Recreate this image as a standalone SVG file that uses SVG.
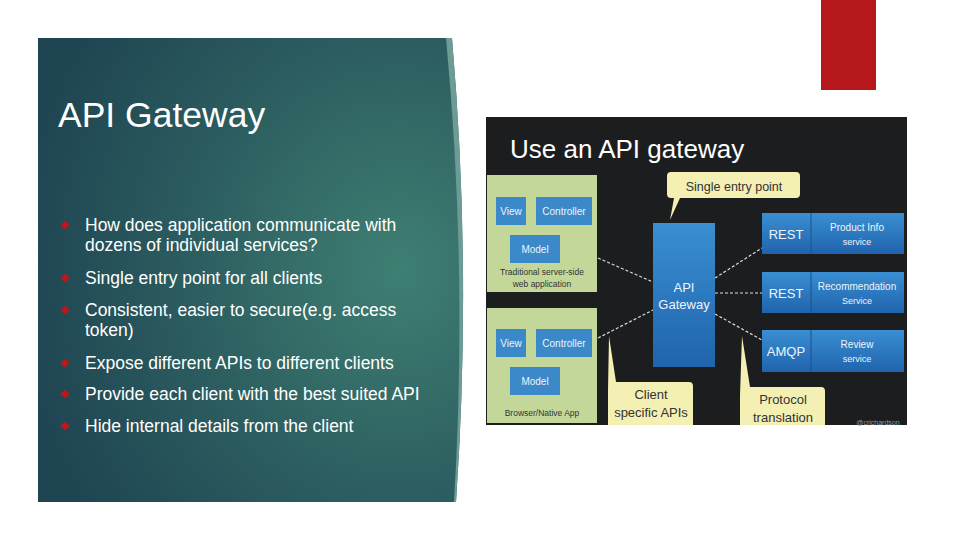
<svg xmlns="http://www.w3.org/2000/svg" width="960" height="540" viewBox="0 0 960 540">
<defs>
<radialGradient id="bg" cx="0.85" cy="0.5" r="0.9">
<stop offset="0" stop-color="#3f7f72"/><stop offset="0.6" stop-color="#2a5a5e"/><stop offset="1" stop-color="#1f4552"/>
</radialGradient>
<linearGradient id="gb" x1="0" y1="0" x2="0" y2="1"><stop offset="0" stop-color="#3a8ed2"/><stop offset="1" stop-color="#1f64ad"/></linearGradient>
<path id="dia" d="M0,-4.5 L4.5,0 L0,4.5 L-4.5,0 Z"/>
</defs>
<style>
.t{font-family:"Liberation Sans",Arial,sans-serif;fill:#fff}
.b{font-size:17.5px}
.g{fill:#c3d898}
.bl{fill:#3b89c9}
.s{fill:url(#gb)}
.w{font-family:"Liberation Sans",Arial,sans-serif;fill:#eef4fa;text-anchor:middle}
.k{font-family:"Liberation Sans",Arial,sans-serif;fill:#333;text-anchor:middle}
.y{fill:#f4efb3}
.c{stroke:#ddd;stroke-width:1.2;stroke-dasharray:3 2;fill:none}
</style>
<rect width="960" height="540" fill="#fff"/>
<rect x="821" y="0" width="55" height="90" fill="#b5171a"/>
<g id="panel">
<path d="M38,38 L452,38 Q472,270 456,502 L38,502 Z" fill="url(#bg)"/>
<path d="M446,38 L452,38 Q472,270 456,502 L454,502 Q468,270 446,38 Z" fill="#6d9b96"/>
<text class="t" x="58" y="127" font-size="35.5">API Gateway</text>
<g fill="#c0151b">
<use href="#dia" x="65" y="225"/><use href="#dia" x="65" y="278"/><use href="#dia" x="65" y="310"/>
<use href="#dia" x="65" y="363"/><use href="#dia" x="65" y="394"/><use href="#dia" x="65" y="426"/>
</g>
<g class="t b">
<text x="85" y="231">How does application communicate with</text>
<text x="85" y="251">dozens of individual services?</text>
<text x="85" y="284">Single entry point for all clients</text>
<text x="85" y="316">Consistent, easier to secure(e.g. access</text>
<text x="85" y="336">token)</text>
<text x="85" y="369">Expose different APIs to different clients</text>
<text x="85" y="400">Provide each client with the best suited API</text>
<text x="85" y="432">Hide internal details from the client</text>
</g>
</g>
<g id="picture">
<rect x="486" y="117" width="421" height="308" fill="#1c1d1f"/>
<text class="t" x="510" y="158" font-size="26" fill="#f2f2f2">Use an API gateway</text>
</g>
<g id="connectors">
<path class="c" d="M598,258 L653,282 M598,338 L653,310 M715,278 L762,248 M715,293 L762,293 M715,314 L762,340"/>
<path d="M520,225 L527,233 M560,225 L552,233 M511,357 L525,366 M555,357 L550,366" stroke="#fff" stroke-width="1"/>
</g>
<g id="web-app">
<rect class="g" x="487" y="175" width="110" height="117"/>
<rect class="bl" x="496" y="197" width="30" height="28"/><text class="w" x="511" y="215" font-size="10">View</text>
<rect class="bl" x="536" y="197" width="56" height="28"/><text class="w" x="564" y="215" font-size="10">Controller</text>
<rect class="bl" x="510" y="235" width="50" height="28"/><text class="w" x="535" y="253" font-size="10">Model</text>
<text class="k" x="542" y="275" font-size="8.5">Traditional server-side</text>
<text class="k" x="542" y="287" font-size="8.5">web application</text>
</g>
<g id="native-app">
<rect class="g" x="487" y="308" width="110" height="115"/>
<rect class="bl" x="496" y="329" width="30" height="28"/><text class="w" x="511" y="347" font-size="10">View</text>
<rect class="bl" x="536" y="329" width="56" height="28"/><text class="w" x="564" y="347" font-size="10">Controller</text>
<rect class="bl" x="510" y="367" width="50" height="28"/><text class="w" x="535" y="385" font-size="10">Model</text>
<text class="k" x="542" y="416" font-size="8.5">Browser/Native App</text>
</g>
<g id="gateway">
<rect class="s" x="653" y="223" width="62" height="144"/>
<text class="w" x="684" y="292" font-size="13">API</text>
<text class="w" x="684" y="309" font-size="13">Gateway</text>
</g>
<g id="product">
<rect class="s" x="762" y="213" width="142" height="41"/><line x1="811" y1="213" x2="811" y2="254" stroke="#1a5290"/>
<text class="w" x="786" y="239" font-size="13">REST</text>
<text class="w" x="857" y="231" font-size="10">Product Info</text><text class="w" x="857" y="245" font-size="9">service</text>
</g>
<g id="recommendation">
<rect class="s" x="762" y="272" width="142" height="41"/><line x1="811" y1="272" x2="811" y2="313" stroke="#1a5290"/>
<text class="w" x="786" y="298" font-size="13">REST</text>
<text class="w" x="857" y="290" font-size="10">Recommendation</text><text class="w" x="857" y="304" font-size="9">Service</text>
</g>
<g id="review">
<rect class="s" x="762" y="330" width="142" height="42"/><line x1="811" y1="330" x2="811" y2="372" stroke="#1a5290"/>
<text class="w" x="786" y="356" font-size="13">AMQP</text>
<text class="w" x="857" y="348" font-size="10">Review</text><text class="w" x="857" y="362" font-size="9">service</text>
</g>
<g id="callout-entry">
<path class="y" d="M671,172 H796 Q800,172 800,176 V194 Q800,198 796,198 H680 L670,220 L674,198 H671 Q667,198 667,194 V176 Q667,172 671,172 Z"/>
<text class="k" x="734" y="191" font-size="12.5">Single entry point</text>
</g>
<g id="callout-client">
<path class="y" d="M612,382 H689 Q693,382 693,386 V425 H608 V390 L609,336 L616,382 Z"/>
<text class="k" x="651" y="399" font-size="13">Client</text>
<text class="k" x="651" y="417" font-size="13">specific APIs</text>
</g>
<g id="callout-protocol">
<path class="y" d="M744,387 H821 Q825,387 825,391 V425 H740 V395 L742,336 L750,387 Z"/>
<text class="k" x="783" y="404" font-size="13">Protocol</text>
<text class="k" x="783" y="422" font-size="13">translation</text>
</g>
<text x="878" y="425" font-family="Liberation Sans,sans-serif" font-size="7" fill="#999" text-anchor="middle">@crichardson</text>
</svg>
